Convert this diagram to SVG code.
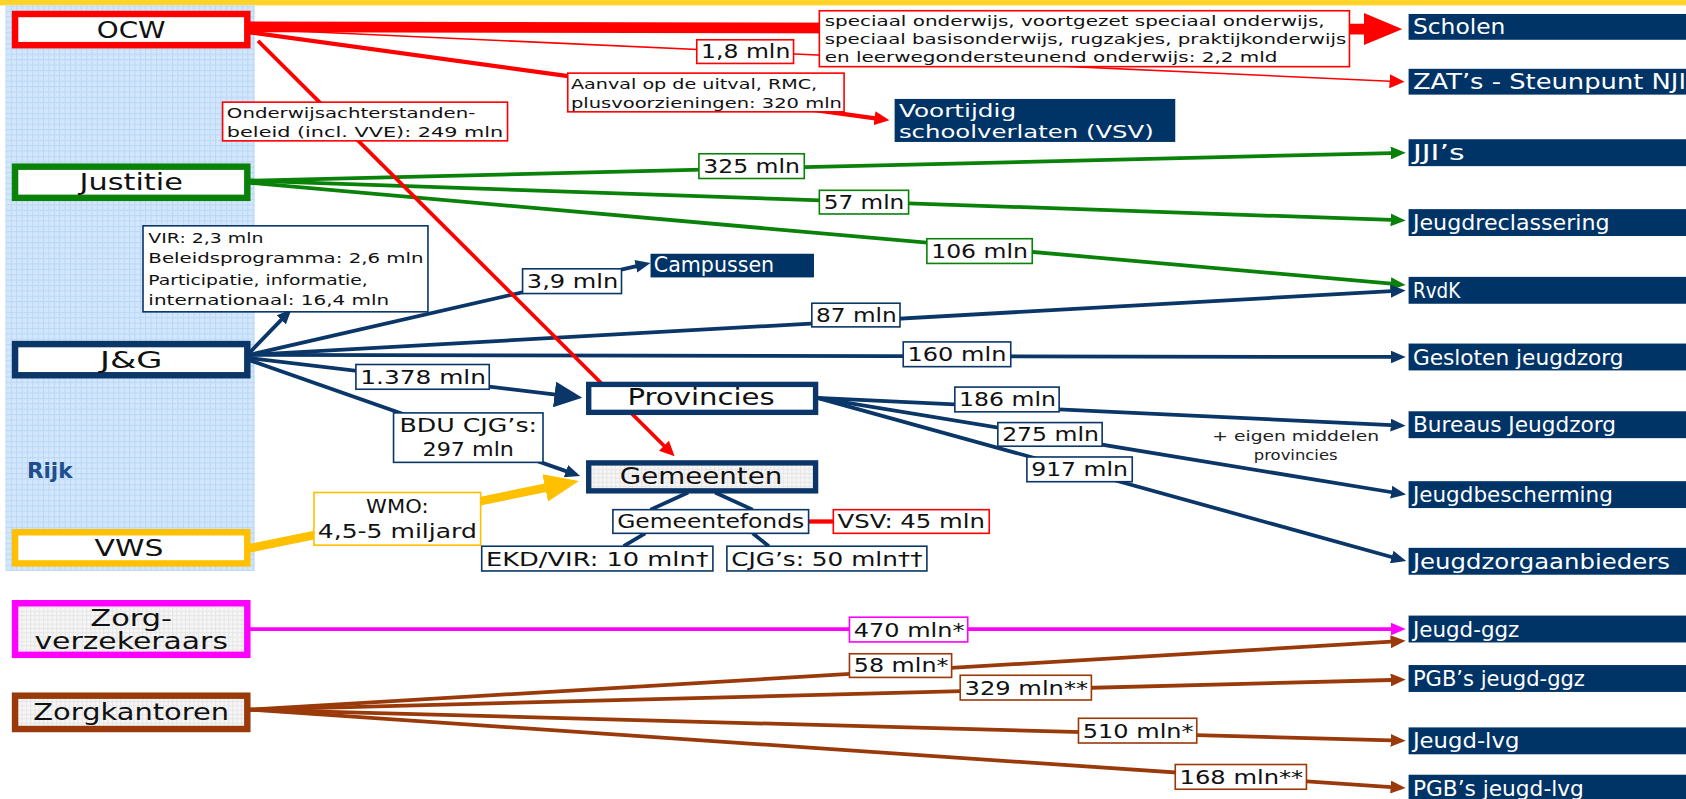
<svg xmlns="http://www.w3.org/2000/svg" width="1686" height="799" viewBox="0 0 1686 799">
<defs>
<pattern id="grid" width="5" height="5" patternUnits="userSpaceOnUse">
<rect width="5" height="5" fill="#d3e7fc"/>
<path d="M0,0.5H5M0.5,0V5" stroke="#bcd8f6" stroke-width="1"/>
</pattern>
<pattern id="gray" width="4" height="4" patternUnits="userSpaceOnUse">
<rect width="4" height="4" fill="#f6f6f6"/>
<path d="M0,0.5H4M0.5,0V4" stroke="#e6e6e6" stroke-width="1"/>
</pattern>
<marker id="aRbig" viewBox="0 0 10 10" markerUnits="userSpaceOnUse" markerWidth="36" markerHeight="30" refX="0.5" refY="5" orient="auto" preserveAspectRatio="none"><path d="M0,0L10,5L0,10z" fill="#ff0000"/></marker>
<marker id="aR" viewBox="0 0 10 10" markerUnits="userSpaceOnUse" markerWidth="14" markerHeight="13" refX="0.5" refY="5" orient="auto" preserveAspectRatio="none"><path d="M0,0L10,5L0,10z" fill="#ff0000"/></marker>
<marker id="aG" viewBox="0 0 10 10" markerUnits="userSpaceOnUse" markerWidth="14" markerHeight="12" refX="0.5" refY="5" orient="auto" preserveAspectRatio="none"><path d="M0,0L10,5L0,10z" fill="#0a820a"/></marker>
<marker id="aB" viewBox="0 0 10 10" markerUnits="userSpaceOnUse" markerWidth="14" markerHeight="12" refX="0.5" refY="5" orient="auto" preserveAspectRatio="none"><path d="M0,0L10,5L0,10z" fill="#0b3668"/></marker>
<marker id="aBbig" viewBox="0 0 10 10" markerUnits="userSpaceOnUse" markerWidth="26" markerHeight="24" refX="0.5" refY="5" orient="auto" preserveAspectRatio="none"><path d="M0,0L10,5L0,10z" fill="#0b3668"/></marker>
<marker id="aY" viewBox="0 0 10 10" markerUnits="userSpaceOnUse" markerWidth="32" markerHeight="26" refX="0.5" refY="5" orient="auto" preserveAspectRatio="none"><path d="M0,0L10,5L0,10z" fill="#ffc000"/></marker>
<marker id="aM" viewBox="0 0 10 10" markerUnits="userSpaceOnUse" markerWidth="14" markerHeight="12" refX="0.5" refY="5" orient="auto" preserveAspectRatio="none"><path d="M0,0L10,5L0,10z" fill="#ff00ff"/></marker>
<marker id="aBr" viewBox="0 0 10 10" markerUnits="userSpaceOnUse" markerWidth="14" markerHeight="12" refX="0.5" refY="5" orient="auto" preserveAspectRatio="none"><path d="M0,0L10,5L0,10z" fill="#9a3a0a"/></marker>
</defs>
<style>
text{font-family:"DejaVu Sans",Verdana,sans-serif}
.nt{font-size:21px;fill:#111;text-anchor:middle}
.tt{font-size:20px;fill:#fff}
.tt2{font-size:16.5px;fill:#fff}
.lb{font-size:17.5px;fill:#111}
.sm{font-size:13.5px;fill:#111}
.tbox{fill:#003366}
.lbR{fill:#fff;stroke:#ff0000;stroke-width:1.5}
.lbG{fill:#fff;stroke:#0a820a;stroke-width:1.5}
.lbB{fill:#fff;stroke:#0b3668;stroke-width:1.5}
.lbY{fill:#fff;stroke:#ffc000;stroke-width:1.5}
.lbM{fill:#fff;stroke:#ff00ff;stroke-width:1.5}
.lbBr{fill:#fff;stroke:#9a3a0a;stroke-width:1.5}
.cR{fill:none;stroke:#ff0000}
.cG{fill:none;stroke:#0a820a;stroke-width:3.5}
.cB{fill:none;stroke:#0b3668;stroke-width:3.5}
.cM{fill:none;stroke:#ff00ff;stroke-width:3.5}
.cBr{fill:none;stroke:#9a3a0a;stroke-width:3.5}
</style>
<rect width="1686" height="799" fill="#ffffff"/>
<g transform="scale(1.07526)">
<rect x="0" y="0" width="1568" height="5" fill="#ffd42a"/>
<g id="rijk">
<rect x="5" y="5" width="232" height="526" fill="url(#grid)"/>
<text x="25" y="445" style="font-size:20px;font-weight:bold;fill:#1f4e8c">Rijk</text>
</g>

<g id="connectors">
<path class="cR" d="M232,25 L1270,27" stroke-width="10" marker-end="url(#aRbig)"/>
<path class="cR" d="M232,27 L1293,75.5" stroke-width="1.5" marker-end="url(#aR)"/>
<path class="cR" d="M232,30 L814,110" stroke-width="4" marker-end="url(#aR)"/>
<path class="cG" d="M232,168 L1294,142.3" marker-end="url(#aG)"/>
<path class="cG" d="M232,168 L1294,204.5" marker-end="url(#aG)"/>
<path class="cG" d="M232,170 L1294,263.8" marker-end="url(#aG)"/>
<path class="cB" d="M232,328 L262,297" marker-end="url(#aB)"/>
<path class="cB" d="M232,330 L592,247.5" stroke-width="1" marker-end="url(#aB)"/>
<path class="cB" d="M232,330 L1294,270.8" marker-end="url(#aB)"/>
<path class="cB" d="M232,330 L1294,332" marker-end="url(#aB)"/>
<path class="cB" d="M232,333 L517,367" stroke-width="8" marker-end="url(#aBbig)"/>
<path class="cB" d="M232,335 L527,438.4" marker-end="url(#aB)"/>
<path d="M232,510 L508.6,453.4" fill="none" stroke="#ffc000" stroke-width="8" marker-end="url(#aY)"/>
<path class="cB" d="M760,370 L1294,395.4" marker-end="url(#aB)"/>
<path class="cB" d="M760,370 L1294.5,457.8" marker-end="url(#aB)"/>
<path class="cB" d="M760,370 L1295,518.2" marker-end="url(#aB)"/>
<path class="cB" d="M640,458 L605,474 M665,458 L700,474 M600,496 L580,508 M700,496 L715,508"/>
<path class="cR" d="M752,485 L775,485" stroke-width="4"/>
<path class="cM" d="M232,585 L1294,585" marker-end="url(#aM)"/>
<path class="cBr" d="M232,660 L1294,596.8" marker-end="url(#aBr)"/>
<path class="cBr" d="M232,660 L1294,632.4" marker-end="url(#aBr)"/>
<path class="cBr" d="M232,660 L1294,688.6" marker-end="url(#aBr)"/>
<path class="cBr" d="M232,660 L1294,732" marker-end="url(#aBr)"/>
<path class="cR" d="M240,38 L618,415" stroke-width="3.5" marker-end="url(#aR)"/>
</g>

<g id="edge-labels">
<rect class="lbR" x="762" y="10" width="493" height="52"/>
<text class="sm" x="767" y="24" textLength="465" lengthAdjust="spacingAndGlyphs">speciaal onderwijs, voortgezet speciaal onderwijs,</text>
<text class="sm" x="767" y="41" textLength="485" lengthAdjust="spacingAndGlyphs">speciaal basisonderwijs, rugzakjes, praktijkonderwijs</text>
<text class="sm" x="767" y="58" textLength="421" lengthAdjust="spacingAndGlyphs">en leerwegondersteunend onderwijs: 2,2 mld</text>
<rect class="lbR" x="648" y="37" width="90" height="22"/>
<text class="lb" x="652" y="54" textLength="83" lengthAdjust="spacingAndGlyphs">1,8 mln</text>
<rect class="lbR" x="528" y="68" width="257" height="36"/>
<text class="sm" x="531" y="83" textLength="229" lengthAdjust="spacingAndGlyphs">Aanval op de uitval, RMC,</text>
<text class="sm" x="531" y="100" textLength="252" lengthAdjust="spacingAndGlyphs">plusvoorzieningen: 320 mln</text>
<rect class="lbR" x="207" y="95" width="265" height="36"/>
<text class="sm" x="211" y="110" textLength="231" lengthAdjust="spacingAndGlyphs">Onderwijsachterstanden-</text>
<text class="sm" x="211" y="127" textLength="257" lengthAdjust="spacingAndGlyphs">beleid (incl. VVE): 249 mln</text>
<rect class="lbG" x="650" y="143" width="98" height="23"/>
<text class="lb" x="654" y="161" textLength="90" lengthAdjust="spacingAndGlyphs">325 mln</text>
<rect class="lbG" x="762" y="177" width="83" height="22"/>
<text class="lb" x="766" y="194" textLength="75" lengthAdjust="spacingAndGlyphs">57 mln</text>
<rect class="lbG" x="862" y="222" width="98" height="23"/>
<text class="lb" x="866" y="240" textLength="90" lengthAdjust="spacingAndGlyphs">106 mln</text>
<rect class="lbB" x="133" y="210" width="265" height="80"/>
<text class="sm" x="138" y="226" textLength="107" lengthAdjust="spacingAndGlyphs">VIR: 2,3 mln</text>
<text class="sm" x="138" y="245" textLength="256" lengthAdjust="spacingAndGlyphs">Beleidsprogramma: 2,6 mln</text>
<text class="sm" x="138" y="265" textLength="204" lengthAdjust="spacingAndGlyphs">Participatie, informatie,</text>
<text class="sm" x="138" y="284" textLength="224" lengthAdjust="spacingAndGlyphs">internationaal: 16,4 mln</text>
<rect class="lbB" x="486" y="250" width="92" height="23"/>
<text class="lb" x="490" y="268" textLength="85" lengthAdjust="spacingAndGlyphs">3,9 mln</text>
<rect class="lbB" x="755" y="282" width="82" height="22"/>
<text class="lb" x="759" y="299" textLength="75" lengthAdjust="spacingAndGlyphs">87 mln</text>
<rect class="lbB" x="840" y="318" width="100" height="23"/>
<text class="lb" x="844" y="336" textLength="92" lengthAdjust="spacingAndGlyphs">160 mln</text>
<rect class="lbB" x="331" y="339" width="124" height="23"/>
<text class="lb" x="335" y="357" textLength="117" lengthAdjust="spacingAndGlyphs">1.378 mln</text>
<rect class="lbB" x="366" y="384" width="139" height="46"/>
<text class="lb" x="435.5" y="402" text-anchor="middle" textLength="128" lengthAdjust="spacingAndGlyphs">BDU CJG’s:</text>
<text class="lb" x="435.5" y="424" text-anchor="middle" textLength="85" lengthAdjust="spacingAndGlyphs">297 mln</text>
<rect class="lbY" x="292" y="458" width="155" height="49"/>
<text class="lb" x="369.5" y="477" text-anchor="middle" textLength="58" lengthAdjust="spacingAndGlyphs">WMO:</text>
<text class="lb" x="369.5" y="500" text-anchor="middle" textLength="148" lengthAdjust="spacingAndGlyphs">4,5-5 miljard</text>
<rect class="lbB" x="888" y="360" width="97" height="23"/>
<text class="lb" x="892" y="378" textLength="90" lengthAdjust="spacingAndGlyphs">186 mln</text>
<rect class="lbB" x="928" y="393" width="97" height="22"/>
<text class="lb" x="932" y="410" textLength="90" lengthAdjust="spacingAndGlyphs">275 mln</text>
<rect class="lbB" x="955" y="425" width="98" height="23"/>
<text class="lb" x="959" y="443" textLength="90" lengthAdjust="spacingAndGlyphs">917 mln</text>
<text x="1205" y="410" text-anchor="middle" style="font-size:12.5px;fill:#222" textLength="155" lengthAdjust="spacingAndGlyphs">+ eigen middelen</text>
<text x="1205" y="428" text-anchor="middle" style="font-size:12.5px;fill:#222" textLength="78" lengthAdjust="spacingAndGlyphs">provincies</text>
<rect class="lbM" x="790" y="574" width="110" height="23"/>
<text class="lb" x="794" y="592" textLength="103" lengthAdjust="spacingAndGlyphs">470 mln*</text>
<rect class="lbBr" x="790" y="608" width="95" height="22"/>
<text class="lb" x="794" y="625" textLength="88" lengthAdjust="spacingAndGlyphs">58 mln*</text>
<rect class="lbBr" x="893" y="628" width="122" height="23"/>
<text class="lb" x="897" y="646" textLength="115" lengthAdjust="spacingAndGlyphs">329 mln**</text>
<rect class="lbBr" x="1003" y="668" width="110" height="23"/>
<text class="lb" x="1007" y="686" textLength="103" lengthAdjust="spacingAndGlyphs">510 mln*</text>
<rect class="lbBr" x="1093" y="711" width="122" height="23"/>
<text class="lb" x="1097" y="729" textLength="115" lengthAdjust="spacingAndGlyphs">168 mln**</text>
</g>

<g id="node-ocw"><rect x="14" y="13" width="216" height="29" fill="#fff" stroke="#ff0000" stroke-width="6"/><text class="nt" x="122" y="35" textLength="64" lengthAdjust="spacingAndGlyphs">OCW</text></g>
<g id="node-justitie"><rect x="14" y="155" width="216" height="29" fill="#fff" stroke="#0a820a" stroke-width="6"/><text class="nt" x="122" y="177" textLength="96" lengthAdjust="spacingAndGlyphs">Justitie</text></g>
<g id="node-jg"><rect x="14" y="320" width="216" height="29" fill="#fff" stroke="#0b3668" stroke-width="6"/><text class="nt" x="122" y="342" textLength="58" lengthAdjust="spacingAndGlyphs">J&amp;G</text></g>
<g id="node-vws"><rect x="14" y="495" width="216" height="29" fill="#fff" stroke="#ffc000" stroke-width="6"/><text class="nt" x="120" y="517" textLength="64" lengthAdjust="spacingAndGlyphs">VWS</text></g>
<g id="node-zorgverzekeraars"><rect x="14" y="561" width="216" height="48" fill="url(#gray)" stroke="#ff00ff" stroke-width="6"/><text class="nt" x="122" y="582" textLength="76" lengthAdjust="spacingAndGlyphs">Zorg-</text><text class="nt" x="122" y="604" textLength="180" lengthAdjust="spacingAndGlyphs">verzekeraars</text></g>
<g id="node-zorgkantoren"><rect x="14" y="647" width="216" height="31" fill="url(#gray)" stroke="#9a3a0a" stroke-width="6"/><text class="nt" x="122" y="670" textLength="182" lengthAdjust="spacingAndGlyphs">Zorgkantoren</text></g>

<g id="node-provincies"><rect x="547.5" y="357.5" width="211" height="26" fill="#fff" stroke="#0b3668" stroke-width="5"/><text class="nt" x="652" y="377" textLength="137" lengthAdjust="spacingAndGlyphs">Provincies</text></g>
<g id="node-gemeenten"><rect x="547.5" y="430.5" width="211" height="26" fill="url(#gray)" stroke="#0b3668" stroke-width="5"/><text class="nt" x="652" y="450" textLength="151" lengthAdjust="spacingAndGlyphs">Gemeenten</text></g>
<g id="node-gemeentefonds"><rect class="lbB" x="570" y="474" width="182" height="22"/><text class="lb" x="661" y="491" text-anchor="middle" textLength="174" lengthAdjust="spacingAndGlyphs">Gemeentefonds</text></g>
<g id="node-vsv45"><rect class="lbR" x="775" y="474" width="145" height="22"/><text class="lb" x="847.5" y="491" text-anchor="middle" textLength="137" lengthAdjust="spacingAndGlyphs">VSV: 45 mln</text></g>
<g id="node-ekd"><rect class="lbB" x="448" y="508" width="215" height="23"/><text class="lb" x="555.5" y="526" text-anchor="middle" textLength="207" lengthAdjust="spacingAndGlyphs">EKD/VIR: 10 mln†</text></g>
<g id="node-cjg"><rect class="lbB" x="676" y="508" width="186" height="23"/><text class="lb" x="769" y="526" text-anchor="middle" textLength="178" lengthAdjust="spacingAndGlyphs">CJG’s: 50 mln††</text></g>

<g id="node-vsv"><rect class="tbox" x="832" y="92" width="261" height="40"/><text class="tt2" x="836" y="109" textLength="109" lengthAdjust="spacingAndGlyphs">Voortijdig</text><text class="tt2" x="836" y="128" textLength="237" lengthAdjust="spacingAndGlyphs">schoolverlaten (VSV)</text></g>
<g id="node-campussen"><rect class="tbox" x="605" y="236" width="152" height="22"/><text class="tt" x="608" y="253" textLength="112" lengthAdjust="spacingAndGlyphs">Campussen</text></g>

<g id="node-scholen"><rect class="tbox" x="1310" y="13" width="260" height="24"/><text class="tt" x="1314" y="32" textLength="86" lengthAdjust="spacingAndGlyphs">Scholen</text></g>
<g id="node-zat"><rect class="tbox" x="1310" y="64" width="260" height="24"/><text class="tt" x="1314" y="83" textLength="254" lengthAdjust="spacingAndGlyphs">ZAT’s - Steunpunt NJI</text></g>
<g id="node-jji"><rect class="tbox" x="1310" y="129.5" width="260" height="25"/><text class="tt" x="1314" y="149" textLength="48" lengthAdjust="spacingAndGlyphs">JJI’s</text></g>
<g id="node-jeugdreclassering"><rect class="tbox" x="1310" y="194.5" width="260" height="25"/><text class="tt" x="1314" y="214" textLength="183" lengthAdjust="spacingAndGlyphs">Jeugdreclassering</text></g>
<g id="node-rvdk"><rect class="tbox" x="1310" y="257.5" width="260" height="25"/><text class="tt" x="1314" y="277" textLength="44" lengthAdjust="spacingAndGlyphs">RvdK</text></g>
<g id="node-gesloten"><rect class="tbox" x="1310" y="319.5" width="260" height="25"/><text class="tt" x="1314" y="339" textLength="196" lengthAdjust="spacingAndGlyphs">Gesloten jeugdzorg</text></g>
<g id="node-bureaus"><rect class="tbox" x="1310" y="382.5" width="260" height="25"/><text class="tt" x="1314" y="402" textLength="189" lengthAdjust="spacingAndGlyphs">Bureaus Jeugdzorg</text></g>
<g id="node-jeugdbescherming"><rect class="tbox" x="1310" y="447.5" width="260" height="25"/><text class="tt" x="1314" y="467" textLength="186" lengthAdjust="spacingAndGlyphs">Jeugdbescherming</text></g>
<g id="node-jeugdzorgaanbieders"><rect class="tbox" x="1310" y="509.5" width="260" height="25"/><text class="tt" x="1314" y="529" textLength="239" lengthAdjust="spacingAndGlyphs">Jeugdzorgaanbieders</text></g>
<g id="node-jeugdggz"><rect class="tbox" x="1310" y="572.5" width="260" height="25"/><text class="tt" x="1314" y="592" textLength="99" lengthAdjust="spacingAndGlyphs">Jeugd-ggz</text></g>
<g id="node-pgbggz"><rect class="tbox" x="1310" y="618.5" width="260" height="25"/><text class="tt" x="1314" y="638" textLength="160" lengthAdjust="spacingAndGlyphs">PGB’s jeugd-ggz</text></g>
<g id="node-jeugdlvg"><rect class="tbox" x="1310" y="676.5" width="260" height="25"/><text class="tt" x="1314" y="696" textLength="99" lengthAdjust="spacingAndGlyphs">Jeugd-lvg</text></g>
<g id="node-pgblvg"><rect class="tbox" x="1310" y="720.5" width="260" height="25"/><text class="tt" x="1314" y="740" textLength="159" lengthAdjust="spacingAndGlyphs">PGB’s jeugd-lvg</text></g>
</g>
</svg>
